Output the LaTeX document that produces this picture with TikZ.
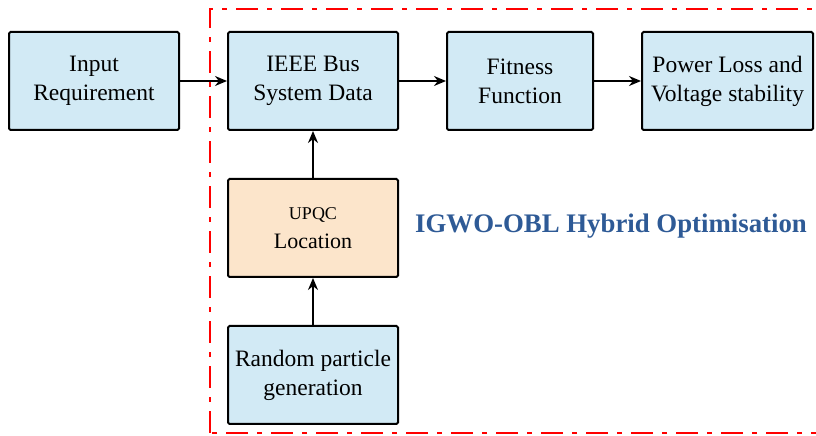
\documentclass[tikz,border=0pt]{standalone}
\usepackage{fontspec}
\setmainfont{Liberation Serif}
\usetikzlibrary{positioning,arrows.meta}
\definecolor{boxblue}{HTML}{D2EAF5}
\definecolor{boxtan}{HTML}{FCE5CB}
\definecolor{titleblue}{HTML}{2E5A96}
\tikzset{blk/.style={draw,line width=2pt,rounded corners=1.5pt,fill=boxblue,
    minimum width=170pt,minimum height=98pt,align=center,inner sep=1pt,
    font=\fontsize{23.5}{29}\selectfont},
  flow/.style={-{Stealth[length=12pt,width=10pt]},line width=1.6pt}}

\begin{document}
\begin{tikzpicture}[node distance=47pt]
    \useasboundingbox (0,0) rectangle (816pt,436pt);
    \clip (0,0) rectangle (816pt,436pt);
    \node[blk] (input) at (94pt,355pt) {Input\\Requirement};
    \node[blk,right=of input] (bus) {IEEE Bus\\System Data};
    \node[blk,right=of bus,minimum width=146pt] (fitness) {Fitness\\Function};
    \node[blk,right=of fitness,minimum width=171pt] (loss) {Power Loss and\\Voltage stability};
    \node[blk,below=of bus,fill=boxtan] (upqc) {{\fontsize{18}{25}\selectfont UPQC}\\{\fontsize{22}{28}\selectfont Location}};
    \node[blk,below=of upqc] (random) {Random particle\\generation};
    \node[right=16pt of upqc,yshift=2pt,inner sep=0pt,text=titleblue,
        font=\fontsize{26.8}{30}\selectfont\bfseries] (title) {IGWO-OBL Hybrid Optimisation};
    % optimisation boundary
    \draw[red,line width=2pt,dash pattern=on 22pt off 9pt on 5pt off 9pt] (210pt,3pt) rectangle (840pt,427pt);
    \draw[flow] (input) -- (bus);
    \draw[flow] (bus) -- (fitness);
    \draw[flow] (fitness) -- (loss);
    \draw[flow] (upqc) -- (bus);
    \draw[flow] (random) -- (upqc);
\end{tikzpicture}
\end{document}
